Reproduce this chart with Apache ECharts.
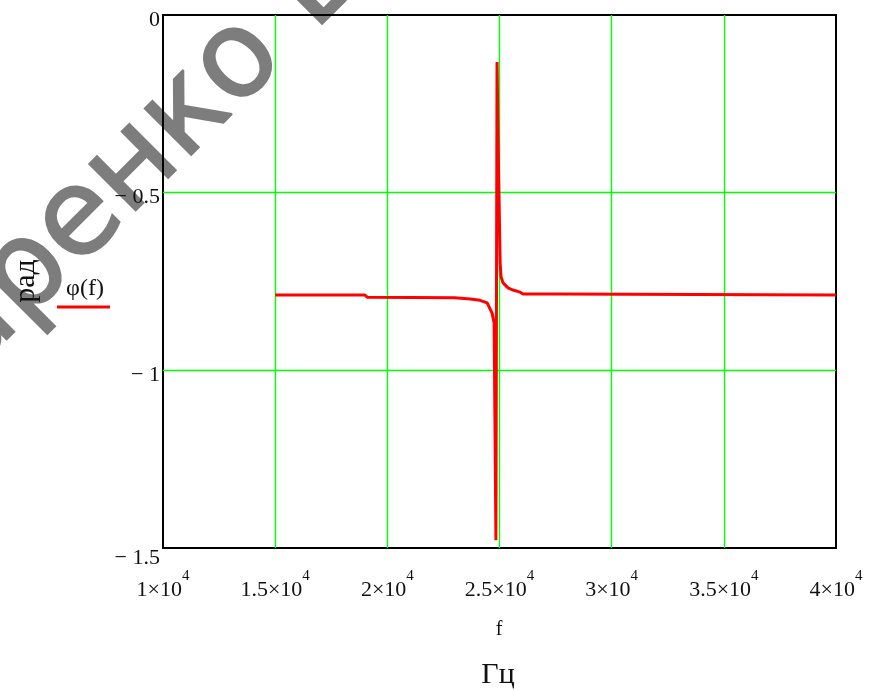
<!DOCTYPE html>
<html>
<head>
<meta charset="utf-8">
<script src="https://cdn.jsdelivr.net/npm/echarts@6/dist/echarts.min.js"></script>
<style>
html,body{margin:0;padding:0;background:#fff;}
#c{width:871px;height:691px;}
</style>
</head>
<body>
<div id="c"></div>
<script>
// Data
const freq = [15000, 19000, 19100, 23000, 23700, 24130, 24450, 24670, 24760, 24840, 24890, 24960, 25030, 25069, 25160, 25380, 25600, 25920, 26050, 27500, 27560, 40000];
const phase = [-0.788, -0.788, -0.794, -0.796, -0.799, -0.803, -0.810, -0.839, -0.867, -1.478, -0.132, -0.45, -0.70, -0.737, -0.754, -0.768, -0.774, -0.780, -0.785, -0.785, -0.788, -0.788];
const xTickLabels = ['1', '1.5', '2', '2.5', '3', '3.5', '4'];
const xTickExponent = '4';
const yTickLabels = ['\u2212 1.5', '\u2212 1', '\u2212 0.5', '0'];

const serif = '"Liberation Serif", "DejaVu Serif", serif';
const txt = '#111';

const chart = echarts.init(document.getElementById('c'), null, {renderer: 'canvas'});
const data = freq.map((f, i) => [f, phase[i]]);

chart.setOption({
  animation: false,
  backgroundColor: '#fff',
  grid: {left: 163, top: 15, right: 35, bottom: 143, show: true, borderColor: '#000', borderWidth: 2, backgroundColor: 'transparent', containLabel: false},
  xAxis: {
    type: 'value', min: 10000, max: 40000, interval: 5000,
    axisLine: {show: false}, axisTick: {show: false},
    splitLine: {show: true, showMinLine: false, showMaxLine: false, lineStyle: {color: '#00ff00', width: 1.4, opacity: 1, type: 'solid'}},
    axisLabel: {
      show: true, margin: 21, showMinLabel: true, showMaxLabel: true, hideOverlap: false,
      formatter: function (v) {
        const i = Math.round((v - 10000) / 5000);
        return '{m|' + xTickLabels[i] + '\u00d710}{s|' + xTickExponent + '}';
      },
      rich: {
        m: {fontSize: 22, fontFamily: serif, color: txt, lineHeight: 32, verticalAlign: 'bottom'},
        s: {fontSize: 15, fontFamily: serif, color: txt, lineHeight: 15, verticalAlign: 'top'}
      }
    }
  },
  yAxis: {
    type: 'value', min: -1.5, max: 0, interval: 0.5,
    axisLine: {show: false}, axisTick: {show: false},
    splitLine: {show: true, showMinLine: false, showMaxLine: false, lineStyle: {color: '#00ff00', width: 1.4, opacity: 1, type: 'solid'}},
    axisLabel: {
      show: true, margin: 3, showMinLabel: true, showMaxLabel: true, verticalAlign: 'top',
      formatter: function (v) {
        const i = Math.round((v + 1.5) / 0.5);
        return (i === 0 ? '{b|' : '{n|') + yTickLabels[i] + '}';
      },
      rich: {
        n: {fontSize: 22, fontFamily: serif, color: txt, lineHeight: 10},
        b: {fontSize: 22, fontFamily: serif, color: txt, lineHeight: 20}
      }
    }
  },
  series: [{
    type: 'line', data: data, showSymbol: false, symbol: 'none', smooth: false,
    lineStyle: {color: '#ff0000', width: 3}, z: 5
  }],
  graphic: [
    {type: 'text', z: -1, x: -52, y: 354, rotation: Math.PI / 4,
     style: {text: '\u0430\u0440\u0435\u043d\u043a\u043e \u0412.\u0412.', font: '120px "DejaVu Sans", sans-serif', fill: '#7d7d7d', stroke: '#7d7d7d', lineWidth: 2, align: 'left', verticalAlign: 'middle'}},
    {type: 'text', x: 499, y: 630, z: 10,
     style: {text: 'f', font: '20px ' + serif, fill: txt, align: 'center', verticalAlign: 'middle'}},
    {type: 'text', x: 498, y: 675, z: 10,
     style: {text: '\u0413\u0446', font: '30px ' + serif, fill: txt, align: 'center', verticalAlign: 'middle'}},
    {type: 'text', x: 26, y: 281, z: 10, rotation: Math.PI / 2,
     style: {text: '\u0440\u0430\u0434', font: '30px ' + serif, fill: txt, align: 'center', verticalAlign: 'middle'}},
    {type: 'text', x: 85, y: 289, z: 10,
     style: {text: '\u03c6(f)', font: '24px ' + serif, fill: txt, align: 'center', verticalAlign: 'middle'}},
    {type: 'line', z: 10, shape: {x1: 57, y1: 307, x2: 110, y2: 307}, style: {stroke: '#ff0000', lineWidth: 3}}
  ]
});
</script>
</body>
</html>
